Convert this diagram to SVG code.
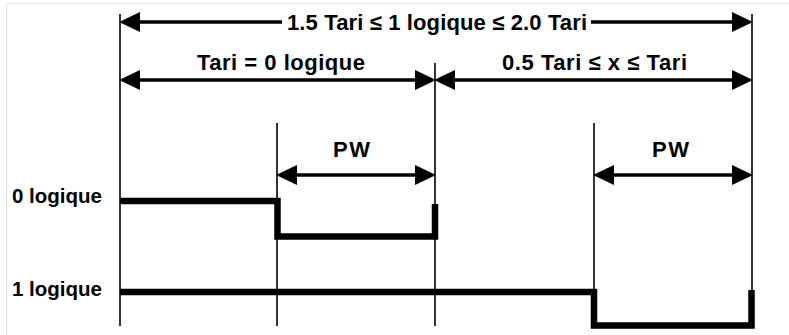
<svg xmlns="http://www.w3.org/2000/svg" width="789" height="335" viewBox="0 0 789 335">
<style>
.txt{font-family:"Liberation Sans",Arial,sans-serif;font-weight:bold;font-size:22px;fill:#000}
.lbl{font-family:"Liberation Sans",Arial,sans-serif;font-weight:bold;font-size:20.5px;fill:#000}
.thin{stroke:#000;stroke-width:1.6;fill:none}
.dim{stroke:#000;stroke-width:3.6;fill:none}
.sig{stroke:#000;stroke-width:6.5;fill:none;stroke-linejoin:miter;stroke-linecap:butt}
.frame{stroke:#e2e2e2;stroke-width:1.2;fill:none}
</style>
<defs>
<marker id="ah" markerUnits="userSpaceOnUse" markerWidth="22" markerHeight="22" refX="10" refY="10" orient="auto" viewBox="0 0 22 22">
<path d="M0,0 L21,10 L0,20 Z" fill="#000"/>
</marker>
</defs>
<rect width="789" height="335" fill="#fff"/>
<path class="frame" d="M6.5,335 L6.5,3.5 L789,3.5"/>
<g id="guides">
<line class="thin" x1="120" y1="14" x2="120" y2="326"/>
<line class="thin" x1="277" y1="123" x2="277" y2="326"/>
<line class="thin" x1="435" y1="63" x2="435" y2="326"/>
<line class="thin" x1="594" y1="123" x2="594" y2="292"/>
<line class="thin" x1="752" y1="14" x2="752" y2="292"/>
</g>
<g id="connectors">
<line class="dim" x1="282" y1="22" x2="130" y2="22" marker-end="url(#ah)"/>
<line class="dim" x1="591" y1="22" x2="742" y2="22" marker-end="url(#ah)"/>
<line class="dim" x1="200" y1="80" x2="130" y2="80" marker-end="url(#ah)"/>
<line class="dim" x1="200" y1="80" x2="425" y2="80" marker-end="url(#ah)"/>
<line class="dim" x1="560" y1="80" x2="445" y2="80" marker-end="url(#ah)"/>
<line class="dim" x1="560" y1="80" x2="742" y2="80" marker-end="url(#ah)"/>
<line class="dim" x1="356" y1="175" x2="287" y2="175" marker-end="url(#ah)"/>
<line class="dim" x1="356" y1="175" x2="425" y2="175" marker-end="url(#ah)"/>
<line class="dim" x1="673" y1="175" x2="604" y2="175" marker-end="url(#ah)"/>
<line class="dim" x1="673" y1="175" x2="742" y2="175" marker-end="url(#ah)"/>
</g>
<g id="labels">
<text class="txt" x="287" y="30" textLength="300" lengthAdjust="spacing">1.5 Tari ≤ 1 logique ≤ 2.0 Tari</text>
<text class="txt" x="197" y="70" textLength="168" lengthAdjust="spacing">Tari = 0 logique</text>
<text class="txt" x="502" y="70" textLength="185" lengthAdjust="spacing">0.5 Tari ≤ x ≤ Tari</text>
<text class="txt" x="333" y="157" textLength="37" lengthAdjust="spacing">PW</text>
<text class="txt" x="652" y="157" textLength="37" lengthAdjust="spacing">PW</text>
</g>
<g id="signal0">
<text class="lbl" x="12" y="203" textLength="90" lengthAdjust="spacing">0 logique</text>
<path class="sig" d="M120,201 L277.5,201 L277.5,236.5 L435,236.5 L435,204"/>
</g>
<g id="signal1">
<text class="lbl" x="12" y="296" textLength="90" lengthAdjust="spacing">1 logique</text>
<path class="sig" d="M120,292 L594,292 L594,325.5 L751.5,325.5 L751.5,290"/>
</g>
</svg>
